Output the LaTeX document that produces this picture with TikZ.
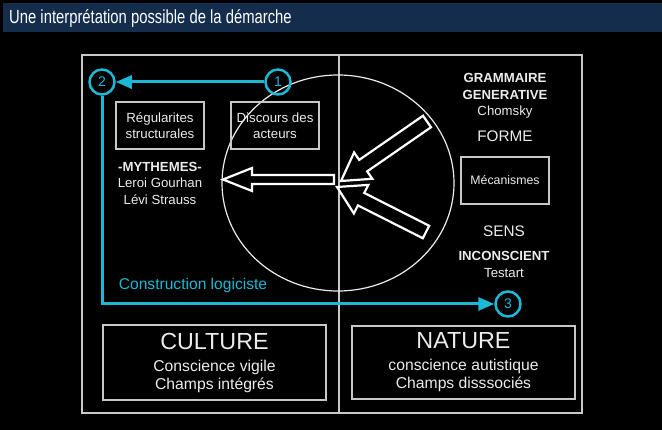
\documentclass[tikz,border=0pt]{standalone}
\usepackage{fontspec}
\setmainfont{Liberation Sans}
\newfontfamily\titlefont[FakeStretch=0.78]{Liberation Sans}
\usetikzlibrary{arrows.meta,calc}
\definecolor{hdr}{RGB}{20,45,76}
\definecolor{cy}{RGB}{28,184,214}
\definecolor{ln}{RGB}{200,200,200}
\definecolor{tx}{RGB}{236,236,236}
\newcommand\blockarrow[5]{%
  \coordinate (bah) at ($(#1)!#5!(#2)$);
  \draw[barrow] (#1) -- ($(bah)!#4!90:(#2)$) -- ($(bah)!#3!90:(#2)$)
    -- ($(#2)!#3!-90:(#1)$) -- ($(#2)!#3!90:(#1)$)
    -- ($(bah)!#3!-90:(#2)$) -- ($(bah)!#4!-90:(#2)$) -- cycle;}
\begin{document}
\begin{tikzpicture}[x=1pt,y=-1pt,
  frame/.style={draw=ln,line width=1.8pt},
  box/.style={draw=ln,line width=1.5pt,text=tx,align=center,inner sep=0pt},
  txt/.style={text=tx,align=center,inner sep=0pt},
  num/.style={circle,draw=cy,line width=2.5pt,text=cy,minimum size=25pt,inner sep=0pt,font=\fontsize{14}{14}\selectfont},
  cyline/.style={draw=cy,line width=3pt,-{Triangle[length=16pt,width=13pt]}},
  barrow/.style={draw=white,line width=2.2pt,line join=miter}]
\useasboundingbox (0,0) rectangle (662,430);
\fill[black] (0,0) rectangle (662,430);
\fill[hdr] (3,3) rectangle (662,32);
\node[anchor=west,text=white,inner sep=0pt,font=\titlefont\fontsize{19}{22}\selectfont] (title) at (9,18) {Une interprétation possible de la démarche};
% frame
\draw[frame] (82,55) rectangle (582,413);
\draw[frame] (339,55) -- (339,413);
% big circle
\draw[draw=tx,line width=1.2pt] (338,183) ellipse [x radius=116pt,y radius=108pt];
% boxes
\node[box,minimum width=88pt,minimum height=47pt,font=\fontsize{13.3}{16}\selectfont] (reg) at (160,125.5) {Régularites\\structurales};
\node[box,minimum width=88pt,minimum height=47pt,font=\fontsize{13.3}{16}\selectfont] (disc) at (275,125.5) {Discours des\\acteurs};
\node[box,minimum width=88pt,minimum height=47pt,font=\fontsize{12.3}{15}\selectfont] (meca) at (505,180.5) {Mécanismes};
\node[box,minimum width=223pt,minimum height=75pt,font=\fontsize{15.7}{18}\selectfont] (cult) at (214.5,362.5) {{\fontsize{23.3}{26}\selectfont CULTURE}\\[4pt]Conscience vigile\\Champs intégrés};
\node[box,minimum width=223pt,minimum height=73pt,font=\fontsize{15.7}{18}\selectfont] (nat) at (463.5,362.5) {{\fontsize{23.3}{26}\selectfont NATURE}\\[4pt]conscience autistique\\Champs disssociés};
% texts
\node[txt,font=\fontsize{13.2}{16.5}\selectfont] (myth) at (160,183) {\textbf{-MYTHEMES-}\\Leroi Gourhan\\Lévi Strauss};
\node[txt,font=\fontsize{13.2}{16.5}\selectfont] (gram) at (505,96) {\textbf{GRAMMAIRE}\\\textbf{GENERATIVE}\\Chomsky};
\node[txt,font=\fontsize{15.3}{18}\selectfont] (forme) at (505,136) {FORME};
\node[txt,font=\fontsize{15.3}{18}\selectfont] (sens) at (504,231) {SENS};
\node[txt,font=\fontsize{13.2}{17}\selectfont] (incon) at (504,264.5) {\textbf{INCONSCIENT}\\Testart};
% block arrows
\coordinate (ta) at (223,179.5); \coordinate (ea) at (334,179.5);
\coordinate (tb) at (341,181);   \coordinate (eb) at (427,121.5);
\coordinate (tc) at (337,187);   \coordinate (ec) at (426,232);
\blockarrow{ta}{ea}{4.5pt}{11.5pt}{29pt}
\blockarrow{tb}{eb}{7pt}{16pt}{27pt}
\blockarrow{tc}{ec}{7pt}{16pt}{27pt}
% numbered circles and cyan path
\node[num] (n1) at (278,82) {1};
\node[num] (n2) at (102,82) {2};
\node[num] (n3) at (508,304) {3};
\draw[cyline] (n1) -- (n2);
\draw[cyline] (n2) |- (n3);
\node[text=cy,inner sep=0pt,font=\fontsize{15.6}{18}\selectfont] (constr) at (193,285) {Construction logiciste};
\end{tikzpicture}
\end{document}
